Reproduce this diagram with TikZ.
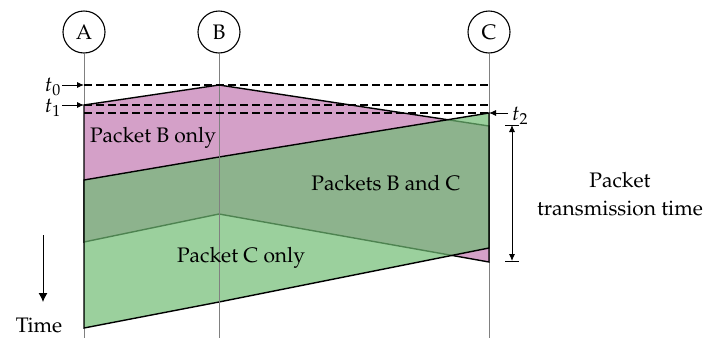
\documentclass[tikz,border=0pt]{standalone}
\usepackage[T1]{fontenc}
\usepackage{mathpazo}
\usetikzlibrary{arrows.meta}
\definecolor{pktpink}{RGB}{212,160,200}
\definecolor{pktgreen}{RGB}{112,188,116}
\tikzset{station/.style={circle, draw=black, line width=1.1pt, minimum size=42pt, inner sep=0pt},
stline/.style={draw=black!50, line width=0.9pt},
tdash/.style={draw=black, dashed, dash pattern=on 8pt off 4pt, line width=2pt},
pkt/.style={draw=black, line width=1.4pt},
tarrow/.style={-{Latex[length=7pt,width=6pt]}, line width=0.9pt}}

\begin{document}
\begin{tikzpicture}[x=1pt,y=-1pt,font=\fontsize{21}{28}\selectfont]
\useasboundingbox (0,0) rectangle (718,338);

\node[station] (A) at (84,32) {A};
\node[station] (B) at (219,32) {B};
\node[station] (C) at (489,32) {C};
\coordinate (bot) at (0,338);

% packet from B
\coordinate (b1) at (84,105);
\coordinate (b2) at (219,85);
\coordinate (b3) at (489,126);
\coordinate (b4) at (489,262);
\coordinate (b5) at (219,214);
\coordinate (b6) at (84,242);

% packet from C
\coordinate (c1) at (489,113);
\coordinate (c2) at (219,157);
\coordinate (c3) at (84,180);
\coordinate (c4) at (84,328);
\coordinate (c5) at (219,302);
\coordinate (c6) at (489,248);

\coordinate (t0A) at (84,85);
\coordinate (t0C) at (489,85);
\coordinate (t1A) at (84,105);
\coordinate (t1C) at (489,105);
\coordinate (t2A) at (84,113);
\coordinate (t2C) at (489,113);

\coordinate (tx1) at (512,125);
\coordinate (tx2) at (512,261);
\coordinate (time0) at (43,235);
\coordinate (time1) at (43,302);

\foreach \s in {A,B,C}
    \draw[stline] (\s.south) -- (\s.south |- bot);

\filldraw[pkt, fill=pktpink] (b1) -- (b2) -- (b3) -- (b4) -- (b5) -- (b6) -- cycle;
\filldraw[pkt, fill=pktgreen, fill opacity=0.7] (c1) -- (c2) -- (c3) -- (c4) -- (c5) -- (c6) -- cycle;

\draw[stline] (B.south) -- (B.south |- bot);

\foreach \t in {t0,t1,t2}
    \draw[tdash] (\t A) -- (\t C);

\node[anchor=east, inner sep=1pt] (lt0) at (62,87) {$t_0$};
\node[anchor=east, inner sep=1pt] (lt1) at (62,108) {$t_1$};
\node[anchor=west, inner sep=4pt] (lt2) at (508,116) {$t_2$};
\draw[tarrow] (lt0.east |- t0A) -- (t0A);
\draw[tarrow] (lt1.east |- t1A) -- (t1A);
\draw[tarrow] (lt2.west |- t2C) -- (t2C);

\draw[tarrow, {Latex[length=7pt,width=6pt]}-{Latex[length=7pt,width=6pt]}] (tx1) -- (tx2);
\draw[line width=0.9pt] (tx1) +(-7,0) -- +(7,0);
\draw[line width=0.9pt] (tx2) +(-7,0) -- +(7,0);
\node[align=center] (ptt) at (620,194) {Packet\\transmission time};

\draw[-{Latex[length=9pt,width=9pt]}, line width=1pt] (time0) -- (time1);
\node[anchor=base, inner sep=0pt] (tlabel) at (39,332) {Time};

\node (onlyB) at (153,138) {Packet B only};
\node (both) at (386,183) {Packets B and C};
\node (onlyC) at (241,258) {Packet C only};

\end{tikzpicture}
\end{document}
